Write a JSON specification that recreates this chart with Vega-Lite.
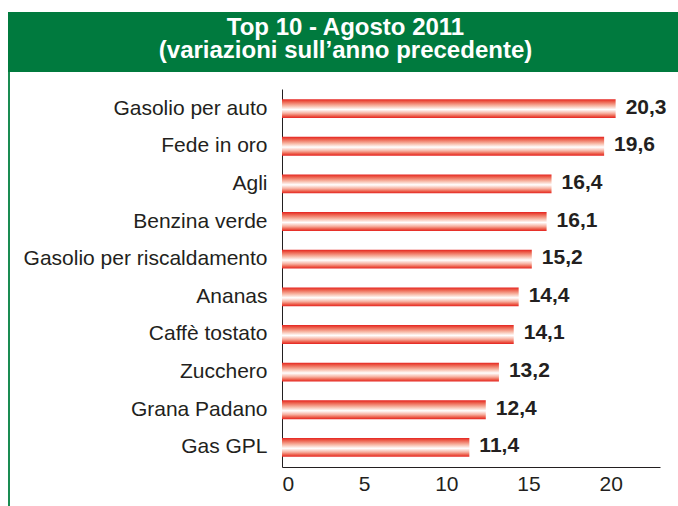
{
  "$schema": "https://vega.github.io/schema/vega-lite/v6.json",
  "padding": {"left": 8, "top": 12, "right": 0, "bottom": 0},
  "autosize": {"type": "pad"},
  "background": "white",
  "config": {
    "font": "Liberation Sans",
    "view": {"stroke": null},
    "locale": {"number": {"decimal": ",", "thousands": ".", "grouping": [3], "currency": ["€", ""]}}
  },
  "spacing": 0,
  "vconcat": [
    {
      "width": 670,
      "height": 60,
      "view": {"fill": "#007a3e", "stroke": null},
      "data": {"values": [{"titolo": ["Top 10 - Agosto 2011", "(variazioni sull’anno precedente)"]}]},
      "mark": {"type": "text", "color": "white", "font": "Liberation Sans", "fontWeight": "bold", "fontSize": 24, "lineHeight": 23, "align": "center", "baseline": "alphabetic", "dx": 2.5, "dy": -7},
      "encoding": {"text": {"field": "titolo"}}
    },
    {
      "spacing": 10,
      "hconcat": [
        {
          "width": 2,
          "height": 434,
          "view": {"fill": "#1a8c52", "stroke": null},
          "data": {"values": [{}]},
          "mark": {"type": "text", "text": "", "fontSize": 0},
          "encoding": {}
        },
        {
          "spacing": 16,
          "vconcat": [
            {
              "width": 10,
              "height": 1,
              "data": {"values": [{}]},
              "mark": {"type": "text", "text": "", "fontSize": 0},
              "encoding": {}
            },
            {
              "width": 378,
              "height": 378,
              "data": {"values": [
                {"prodotto": "Gasolio per auto", "variazione": 20.3},
                {"prodotto": "Fede in oro", "variazione": 19.6},
                {"prodotto": "Agli", "variazione": 16.4},
                {"prodotto": "Benzina verde", "variazione": 16.1},
                {"prodotto": "Gasolio per riscaldamento", "variazione": 15.2},
                {"prodotto": "Ananas", "variazione": 14.4},
                {"prodotto": "Caffè tostato", "variazione": 14.1},
                {"prodotto": "Zucchero", "variazione": 13.2},
                {"prodotto": "Grana Padano", "variazione": 12.4},
                {"prodotto": "Gas GPL", "variazione": 11.4}
              ]},
              "encoding": {
                "y": {
                  "field": "prodotto", "type": "nominal", "sort": null,
                  "scale": {"paddingInner": 0.5, "paddingOuter": 0.27},
                  "axis": {"title": null, "domainColor": "#231f20", "domainWidth": 1, "ticks": false, "tickSize": 0, "labelPadding": 15, "labelFontSize": 21, "labelColor": "#231f20", "labelFont": "Liberation Sans", "minExtent": 262, "maxExtent": 262, "labelLimit": 400}
                },
                "x": {
                  "field": "variazione", "type": "quantitative",
                  "scale": {"domain": [0, 23], "nice": false},
                  "axis": {"title": null, "values": [0, 5, 10, 15, 20], "grid": false, "ticks": false, "tickSize": 0, "labelPadding": 6, "labelFontSize": 21, "labelColor": "#231f20", "labelFont": "Liberation Sans", "domainColor": "#231f20", "domainWidth": 1, "format": "d"}
                }
              },
              "layer": [
                {
                  "mark": {
                    "type": "bar",
                    "fill": {
                      "gradient": "linear", "x1": 0, "y1": 0, "x2": 0, "y2": 1,
                      "stops": [
                        {"offset": 0, "color": "#e52421"},
                        {"offset": 0.12, "color": "#ec5a47"},
                        {"offset": 0.35, "color": "#f7b6a3"},
                        {"offset": 0.55, "color": "#ffffff"},
                        {"offset": 0.75, "color": "#f7b0a0"},
                        {"offset": 0.9, "color": "#ec5a47"},
                        {"offset": 1, "color": "#e52421"}
                      ]
                    }
                  }
                },
                {
                  "mark": {"type": "text", "align": "left", "baseline": "middle", "dx": 10, "dy": -1, "fontSize": 21, "fontWeight": "bold", "color": "#231f20", "font": "Liberation Sans"},
                  "encoding": {"text": {"field": "variazione", "type": "quantitative", "format": ".1f"}}
                }
              ]
            }
          ]
        }
      ]
    }
  ]
}
